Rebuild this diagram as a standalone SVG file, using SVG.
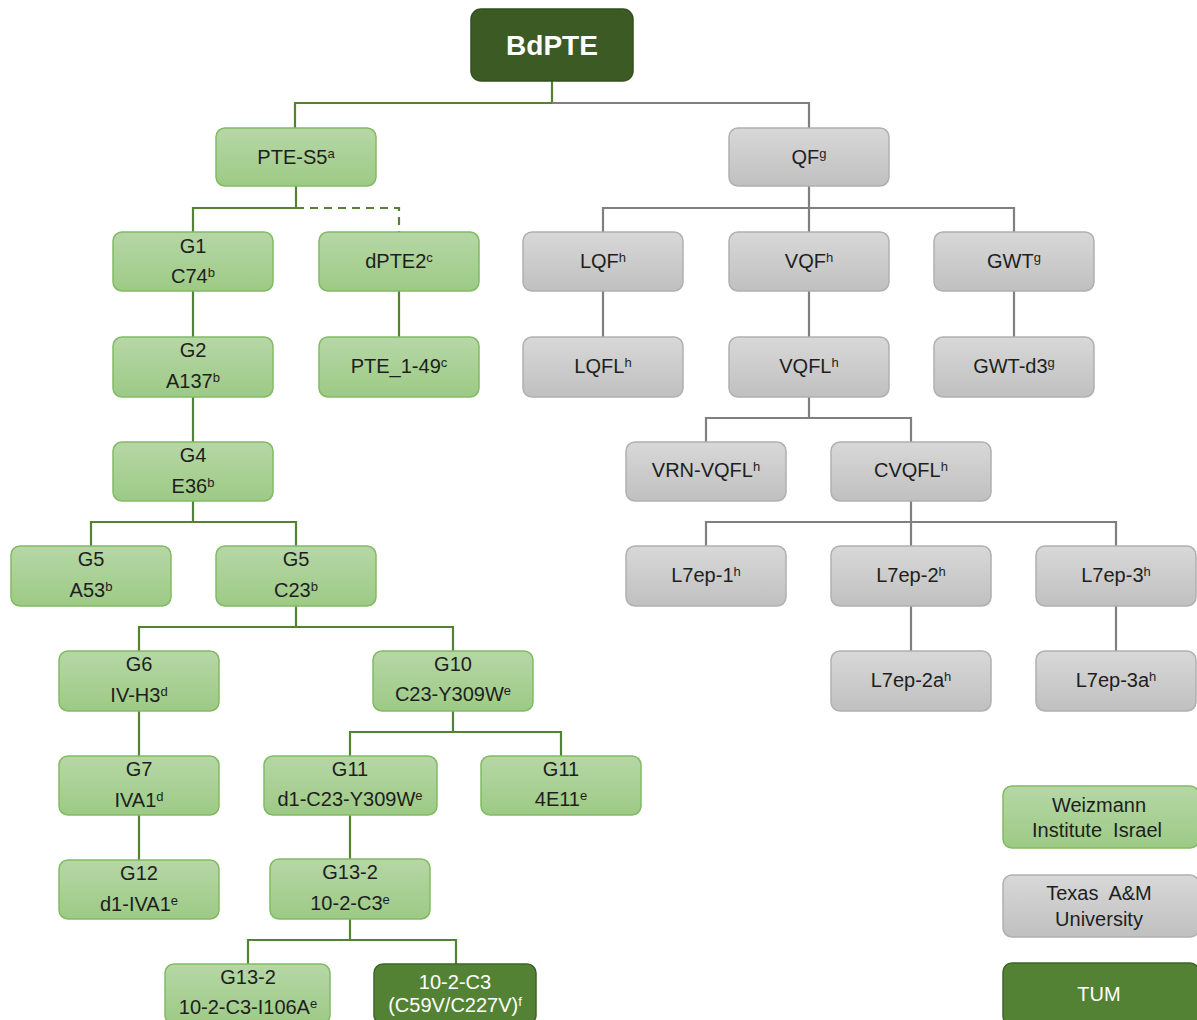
<svg xmlns="http://www.w3.org/2000/svg" width="1197" height="1020" viewBox="0 0 1197 1020">
<defs>
<linearGradient id="gg" x1="0" y1="0" x2="0" y2="1"><stop offset="0" stop-color="#b6d7a6"/><stop offset="1" stop-color="#9dca85"/></linearGradient>
<linearGradient id="sg" x1="0" y1="0" x2="0" y2="1"><stop offset="0" stop-color="#d8d8d8"/><stop offset="1" stop-color="#c0c0c0"/></linearGradient>
<style>
.g rect{fill:url(#gg);stroke:#82ba64;stroke-width:1.5}
.s rect{fill:url(#sg);stroke:#b0b0b0;stroke-width:1.5}
.d rect{fill:#548235;stroke:#3e6427;stroke-width:1.5}
.r rect{fill:#3b5a24;stroke:#33501f;stroke-width:1.5}
text{font-family:"Liberation Sans",Arial,sans-serif;font-size:20px;fill:#1e1e1e;text-anchor:middle}
.d text,.r text{fill:#ffffff}
.r text{font-weight:bold;font-size:28px}
.sup{font-size:13px}
.cg path{fill:none;stroke:#548235;stroke-width:2.2}
.cs path{fill:none;stroke:#7f7f7f;stroke-width:2.2}
</style>
</defs>
<g id="connectors">
<g class="cg">
<path d="M552 81V103H295V128"/>
<path d="M296 186V208H193V232"/>
<path d="M296 208H399V232" stroke-dasharray="8,6"/>
<path d="M193 291V337"/>
<path d="M399 291V337"/>
<path d="M193 397V442"/>
<path d="M193 501V522H91V546"/>
<path d="M193 522H296V546"/>
<path d="M296 606V627H139V651"/>
<path d="M296 627H453V651"/>
<path d="M139 711V756"/>
<path d="M139 815V860"/>
<path d="M453 711V732H350V756"/>
<path d="M453 732H561V756"/>
<path d="M350 815V859"/>
<path d="M350 919V940H248V964"/>
<path d="M350 940H456V964"/>
</g>
<g class="cs">
<path d="M552 103H809V128"/>
<path d="M809 186V208H603V232"/>
<path d="M809 208V232"/>
<path d="M809 208H1014V232"/>
<path d="M603 291V337"/>
<path d="M809 291V337"/>
<path d="M1014 291V337"/>
<path d="M809 397V418H706V442"/>
<path d="M809 418H911V442"/>
<path d="M911 501V522H706V546"/>
<path d="M911 522V546"/>
<path d="M911 522H1116V546"/>
<path d="M911 606V651"/>
<path d="M1116 606V651"/>
</g>
</g>

<g id="n-bdpte" class="r"><rect x="471" y="9" width="162" height="72" rx="10"/><text x="552" y="55">BdPTE</text></g>

<g id="n-pte-s5" class="g"><rect x="216" y="128" width="160" height="58" rx="9"/><text x="296" y="164">PTE-S5<tspan class="sup" dy="-6">a</tspan></text></g>
<g id="n-g1" class="g"><rect x="113" y="232" width="160" height="59" rx="9"/><text x="193" y="253">G1</text><text x="193" y="283">C74<tspan class="sup" dy="-6">b</tspan></text></g>
<g id="n-dpte2" class="g"><rect x="319" y="232" width="160" height="59" rx="9"/><text x="399" y="268">dPTE2<tspan class="sup" dy="-6">c</tspan></text></g>
<g id="n-g2" class="g"><rect x="113" y="337" width="160" height="60" rx="9"/><text x="193" y="357">G2</text><text x="193" y="388">A137<tspan class="sup" dy="-6">b</tspan></text></g>
<g id="n-pte149" class="g"><rect x="319" y="337" width="160" height="60" rx="9"/><text x="399" y="373">PTE_1-49<tspan class="sup" dy="-6">c</tspan></text></g>
<g id="n-g4" class="g"><rect x="113" y="442" width="160" height="59" rx="9"/><text x="193" y="462">G4</text><text x="193" y="493">E36<tspan class="sup" dy="-6">b</tspan></text></g>
<g id="n-g5a" class="g"><rect x="11" y="546" width="160" height="60" rx="9"/><text x="91" y="566">G5</text><text x="91" y="597">A53<tspan class="sup" dy="-6">b</tspan></text></g>
<g id="n-g5c" class="g"><rect x="216" y="546" width="160" height="60" rx="9"/><text x="296" y="566">G5</text><text x="296" y="597">C23<tspan class="sup" dy="-6">b</tspan></text></g>
<g id="n-g6" class="g"><rect x="59" y="651" width="160" height="60" rx="9"/><text x="139" y="671">G6</text><text x="139" y="702">IV-H3<tspan class="sup" dy="-6">d</tspan></text></g>
<g id="n-g10" class="g"><rect x="373" y="651" width="160" height="60" rx="9"/><text x="453" y="671">G10</text><text x="453" y="701">C23-Y309W<tspan class="sup" dy="-6">e</tspan></text></g>
<g id="n-g7" class="g"><rect x="59" y="756" width="160" height="59" rx="9"/><text x="139" y="776">G7</text><text x="139" y="807">IVA1<tspan class="sup" dy="-6">d</tspan></text></g>
<g id="n-g11a" class="g"><rect x="264" y="756" width="173" height="59" rx="9"/><text x="350" y="776">G11</text><text x="350" y="806">d1-C23-Y309W<tspan class="sup" dy="-6">e</tspan></text></g>
<g id="n-g11b" class="g"><rect x="481" y="756" width="160" height="59" rx="9"/><text x="561" y="776">G11</text><text x="561" y="806">4E11<tspan class="sup" dy="-6">e</tspan></text></g>
<g id="n-g12" class="g"><rect x="59" y="860" width="160" height="59" rx="9"/><text x="139" y="880">G12</text><text x="139" y="911">d1-IVA1<tspan class="sup" dy="-6">e</tspan></text></g>
<g id="n-g132" class="g"><rect x="270" y="859" width="160" height="60" rx="9"/><text x="350" y="879">G13-2</text><text x="350" y="910">10-2-C3<tspan class="sup" dy="-6">e</tspan></text></g>
<g id="n-g132b" class="g"><rect x="165" y="964" width="165" height="60" rx="9"/><text x="248" y="984">G13-2</text><text x="248" y="1014">10-2-C3-I106A<tspan class="sup" dy="-6">e</tspan></text></g>
<g id="n-tum-variant" class="d"><rect x="374" y="964" width="162" height="60" rx="9"/><text x="455" y="989">10-2-C3</text><text x="455" y="1012">(C59V/C227V)<tspan class="sup" dy="-6">f</tspan></text></g>

<g id="n-qf" class="s"><rect x="729" y="128" width="160" height="58" rx="9"/><text x="809" y="164">QF<tspan class="sup" dy="-6">g</tspan></text></g>
<g id="n-lqf" class="s"><rect x="523" y="232" width="160" height="59" rx="9"/><text x="603" y="268">LQF<tspan class="sup" dy="-6">h</tspan></text></g>
<g id="n-vqf" class="s"><rect x="729" y="232" width="160" height="59" rx="9"/><text x="809" y="268">VQF<tspan class="sup" dy="-6">h</tspan></text></g>
<g id="n-gwt" class="s"><rect x="934" y="232" width="160" height="59" rx="9"/><text x="1014" y="268">GWT<tspan class="sup" dy="-6">g</tspan></text></g>
<g id="n-lqfl" class="s"><rect x="523" y="337" width="160" height="60" rx="9"/><text x="603" y="373">LQFL<tspan class="sup" dy="-6">h</tspan></text></g>
<g id="n-vqfl" class="s"><rect x="729" y="337" width="160" height="60" rx="9"/><text x="809" y="373">VQFL<tspan class="sup" dy="-6">h</tspan></text></g>
<g id="n-gwtd3" class="s"><rect x="934" y="337" width="160" height="60" rx="9"/><text x="1014" y="373">GWT-d3<tspan class="sup" dy="-6">g</tspan></text></g>
<g id="n-vrn" class="s"><rect x="626" y="442" width="160" height="59" rx="9"/><text x="706" y="477">VRN-VQFL<tspan class="sup" dy="-6">h</tspan></text></g>
<g id="n-cvqfl" class="s"><rect x="831" y="442" width="160" height="59" rx="9"/><text x="911" y="477">CVQFL<tspan class="sup" dy="-6">h</tspan></text></g>
<g id="n-l7ep1" class="s"><rect x="626" y="546" width="160" height="60" rx="9"/><text x="706" y="582">L7ep-1<tspan class="sup" dy="-6">h</tspan></text></g>
<g id="n-l7ep2" class="s"><rect x="831" y="546" width="160" height="60" rx="9"/><text x="911" y="582">L7ep-2<tspan class="sup" dy="-6">h</tspan></text></g>
<g id="n-l7ep3" class="s"><rect x="1036" y="546" width="160" height="60" rx="9"/><text x="1116" y="582">L7ep-3<tspan class="sup" dy="-6">h</tspan></text></g>
<g id="n-l7ep2a" class="s"><rect x="831" y="651" width="160" height="60" rx="9"/><text x="911" y="687">L7ep-2a<tspan class="sup" dy="-6">h</tspan></text></g>
<g id="n-l7ep3a" class="s"><rect x="1036" y="651" width="160" height="60" rx="9"/><text x="1116" y="687">L7ep-3a<tspan class="sup" dy="-6">h</tspan></text></g>

<g id="legend-weizmann" class="g"><rect x="1003" y="786" width="196" height="62" rx="9"/><text x="1099" y="812">Weizmann</text><text x="1097" y="837" xml:space="preserve">Institute  Israel</text></g>
<g id="legend-texas" class="s"><rect x="1003" y="875" width="196" height="62" rx="9"/><text x="1099" y="900" xml:space="preserve">Texas  A&amp;M</text><text x="1099" y="926">University</text></g>
<g id="legend-tum" class="d"><rect x="1003" y="963" width="196" height="62" rx="9"/><text x="1099" y="1001">TUM</text></g>
</svg>
